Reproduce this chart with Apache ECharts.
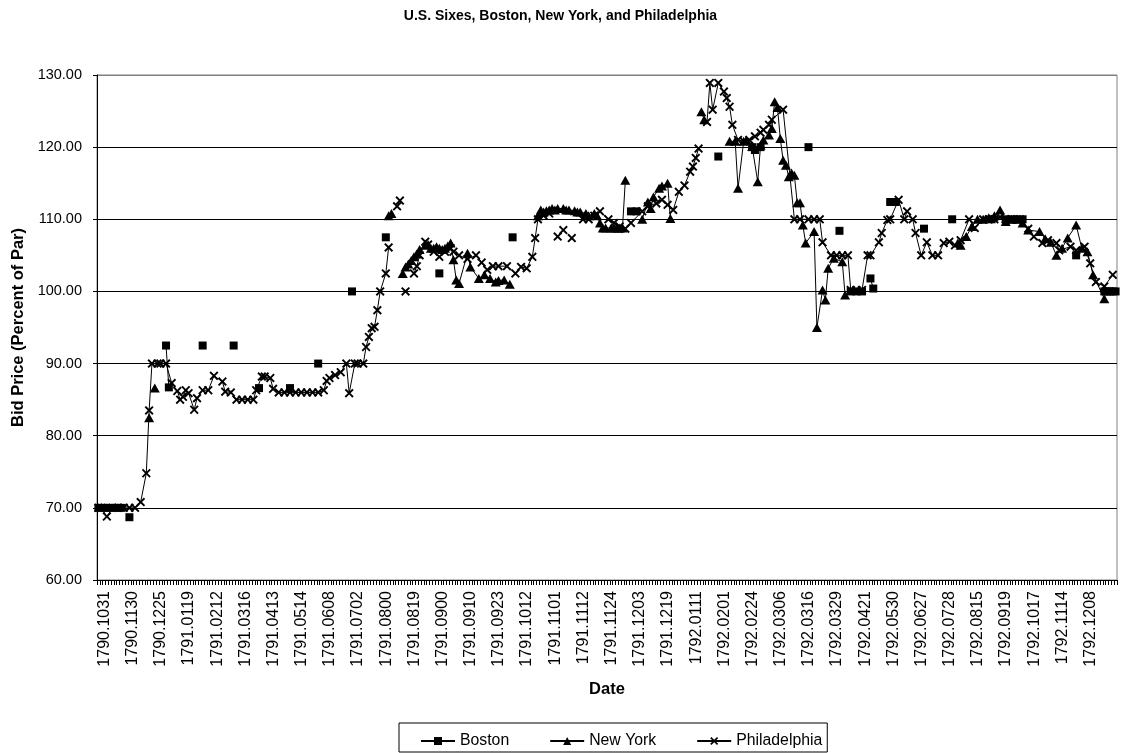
<!DOCTYPE html>
<html>
<head>
<meta charset="utf-8">
<script src="https://cdn.jsdelivr.net/npm/echarts@6/dist/echarts.min.js"></script>
<style>
html,body{margin:0;padding:0;background:#fff;}
#chart{width:1121px;height:753px;}
</style>
</head>
<body>
<div id="chart"></div>
<script>
// ---- Data ----
const chartTitle = 'U.S. Sixes, Boston, New York, and Philadelphia';
const xAxisTitle = 'Date';
const yAxisTitle = 'Bid Price (Percent of Par)';
const seriesNames = ['Boston', 'New York', 'Philadelphia'];

// Tick labels shown on the date axis (one every 10 observations)
const dateLabels = ['1790.1031','1790.1130','1790.1225','1791.0119','1791.0212','1791.0316',
  '1791.0413','1791.0514','1791.0608','1791.0702','1791.0800','1791.0819','1791.0900','1791.0910',
  '1791.0923','1791.1012','1791.1101','1791.1112','1791.1124','1791.1203','1791.1219','1792.0111',
  '1792.0201','1792.0224','1792.0306','1792.0316','1792.0329','1792.0421','1792.0530','1792.0627',
  '1792.0728','1792.0815','1792.0919','1792.1017','1792.1114','1792.1208'];
const observationCount = 362;
const labelEvery = 10;

const yMin = 60, yMax = 130, yStep = 10;

// Series as runs of [observation index, bid price]; separate runs are not joined by a line
const bostonRuns = [
  [[0,70],[2,70],[4,70],[6,70],[8,70]],
  [[11,68.7]],
  [[24,92.5],[25,86.7]],
  [[37,92.5]],
  [[48,92.5]],
  [[57,86.6]],
  [[68,86.6]],
  [[78,90]],
  [[90,100]],
  [[102,107.5]],
  [[121,102.5]],
  [[147,107.5]],
  [[189,111.1],[191,111.1]],
  [[220,118.7]],
  [[232,120],[233,119.6],[235,120]],
  [[252,120]],
  [[263,108.4]],
  [[267,100],[269,100],[271,100]],
  [[274,101.8],[275,100.4]],
  [[281,112.4],[283,112.4]],
  [[293,108.7]],
  [[303,110]],
  [[317,110]],
  [[322,110],[324,110],[326,110],[328,110]],
  [[347,105]],
  [[357,100],[358,100],[359,100],[360,100],[361,100]]
];

const newYorkRuns = [
  [[18,82.5]],
  [[20,86.6]],
  [[103,110.5],[104,110.8]],
  [[108,102.5],[109,103.4],[110,103.8],[111,104.3],[112,104.8],[113,105.2],[114,105.8],[116,106.4],
   [117,106.5],[118,106],[119,106],[120,106.2],[121,106],[122,105.8],[123,106],[124,106.3],[125,106.7],
   [126,104.4],[127,101.6],[128,101.1],[131,105.3],[132,103.4],[135,101.8],[137,102.3],[139,101.8],
   [141,101.3],[142,101.5],[144,101.6],[146,101]],
  [[156,110.5],[157,111.3],[158,111],[159,111.2],[160,111.3],[161,111.5],[162,111.3],[163,111.5],
   [165,111.5],[166,111.3],[167,111.3],[169,111.2],[170,111],[171,111],[173,110.8],[174,110.5],
   [176,110.8],[177,110.5],[178,109.5],[179,108.8],[180,108.8],[182,108.8],[183,108.8],[184,108.8],
   [185,108.8],[186,108.8],[187,115.4]],
  [[193,110],[195,112.4],[196,111.5],[197,113.1],[199,114.3],[200,114.6],[202,115],[203,110.1]],
  [[214,124.9],[215,123.8]],
  [[224,120.8],[226,120.8],[227,114.3],[229,120.8],[230,121],[232,120.1],[234,115.2],[235,120.3],
   [236,121],[238,121.7],[239,122.6],[240,126.3],[241,125.5],[242,121.2],[243,118.2],[244,117.5],
   [245,115.9],[246,116.4],[247,116.1],[248,112.3],[249,112.3],[250,109.2],[251,106.7],[254,108.3],
   [255,95],[257,100.2],[258,98.8],[259,103.2],[261,104.6],[264,104.1],[265,99.5]],
  [[305,106.7],[306,106.4],[308,107.6],[310,109],[312,110],[314,110],[316,110.2],[318,110.5],
   [320,111.3],[322,109.7],[324,110],[326,110],[328,109.5],[330,108.5],[334,108.3],[336,107.3],
   [338,106.8],[340,105],[342,106],[344,107.4],[347,109.2],[349,106],[351,105.5],[353,102.3],[357,99]]
];

const philadelphiaRuns = [
  [[0,70],[1,70],[3,68.8],[5,70],[7,70],[9,70],[11,70],[13,70],[15,70.8],[17,74.8],[18,83.5],
   [19,90],[21,90],[22,90],[24,90],[26,87.3],[28,86.2],[29,85],[30,85.4],[31,86.3],[32,85.9],
   [34,83.6],[35,85.2],[37,86.3],[39,86.3],[41,88.3],[44,87.5],[45,86.1],[47,86],[49,85],[51,85],
   [53,85],[55,85],[56,86.3],[58,88.2],[59,88.2],[61,88],[62,86.5],[64,86],[66,86],[68,86],[70,86],
   [72,86],[74,86],[76,86],[78,86],[80,86.3],[81,87.6],[82,88],[84,88.4],[86,88.8],[88,90],[89,85.9],
   [91,90],[92,90],[94,90],[95,92.3],[96,93.7],[97,94.9],[98,95.1],[99,97.4],[100,100],[102,102.5],
   [103,106.1]],
  [[106,111.8],[107,112.6]],
  [[109,100]],
  [[112,102.5],[113,103.5],[114,105],[116,106.9],[117,106.5],[119,105.5],[121,104.8],[123,105.5],
   [125,106],[126,105.5],[128,105],[131,104.5],[134,105],[136,104],[138,103],[140,103.5],[142,103.5],
   [145,103.5],[148,102.5],[150,103.4],[152,103.2],[154,104.8],[155,107.4],[156,110],[158,110.5],
   [160,110.8]],
  [[163,107.6]],
  [[165,108.5]],
  [[168,107.4]],
  [[172,110],[174,110],[176,110.5],[178,111.1],[181,110],[183,109.5],[185,109],[187,108.7],
   [189,109.5],[193,111.1],[195,111.8],[198,112.2],[200,112.7],[202,112],[204,111.3],[206,113.8],
   [208,114.7],[210,116.6],[211,117.3],[212,118.5],[213,119.8]],
  [[216,123.5],[217,128.9],[218,125.2],[220,128.9],[222,127.7],[223,126.8],[224,125.6],[225,123.1],
   [227,121],[229,120.8],[231,121],[233,121.5],[235,122],[236,122.4],[238,123.1],[239,123.8],
   [243,125.2],[247,110],[249,110],[252,110],[254,110],[256,110],[257,106.8],[260,105],[262,105],
   [264,105],[266,105],[267,100.2],[269,100.2],[271,100.2],[273,105],[274,105],[277,106.8],
   [278,108.1],[280,109.9],[281,110],[284,112.7],[286,110],[287,111.1],[289,110],[290,108.1],
   [292,105],[294,106.8],[296,105],[298,105],[300,106.7],[302,106.9],[304,106.4],[306,107.1],
   [309,110],[311,108.8],[314,110],[316,110],[318,110],[320,110.3],[322,110],[324,110],[327,110],
   [330,108.7],[332,107.6],[335,106.7],[337,107.1],[340,106.7],[341,105.7],[345,106.2],[347,105.7],
   [350,106.2],[352,103.9],[354,101.3],[357,100.7],[360,102.3]]
];

// ---- Build library inputs ----
const categories = Array.from({length: observationCount}, (_, i) =>
  (i % labelEvery === 0 && dateLabels[i / labelEvery]) ? dateLabels[i / labelEvery] : '#' + i);

function joinRuns(runs) {
  const out = [];
  runs.forEach((run, k) => {
    if (k > 0) out.push([run[0][0], null]);
    run.forEach(p => out.push(p));
  });
  return out;
}

const FONT = '"Liberation Sans", Arial, Helvetica, sans-serif';
const xMarker = 'path://M0,1.5L1.5,0L5,3.5L8.5,0L10,1.5L6.5,5L10,8.5L8.5,10L5,6.5L1.5,10L0,8.5L3.5,5Z';

const gridColors = [];
for (let v = yMin; v <= yMax; v += yStep) gridColors.push(v === yMax ? '#808080' : '#000000');

const common = {
  type: 'line',
  showSymbol: true,
  showAllSymbol: true,
  connectNulls: false,
  animation: false,
  emphasis: {disabled: true},
  lineStyle: {color: '#000', width: 1},
  itemStyle: {color: '#000'}
};

const chart = echarts.init(document.getElementById('chart'), null, {renderer: 'canvas'});
chart.setOption({
  backgroundColor: '#ffffff',
  animation: false,
  textStyle: {fontFamily: FONT, color: '#000'},
  title: {
    text: chartTitle, left: 'center', top: 4,
    textStyle: {fontFamily: FONT, fontSize: 14, fontWeight: 'bold', color: '#000'}
  },
  grid: {left: 97, right: 4, top: 75, bottom: 173, show: true, borderColor: '#808080', borderWidth: 1, containLabel: false},
  legend: {
    left: 399, top: 723,
    data: seriesNames,
    itemWidth: 34, itemHeight: 10, itemGap: 40,
    padding: [10, 5, 3, 21],
    borderColor: '#000', borderWidth: 1,
    textStyle: {fontFamily: FONT, fontSize: 15.8, color: '#000'}
  },
  xAxis: {
    type: 'category', data: categories, boundaryGap: true,
    name: xAxisTitle, nameLocation: 'middle', nameGap: 101,
    nameTextStyle: {fontFamily: FONT, fontSize: 16.5, fontWeight: 'bold', color: '#000'},
    axisLine: {show: true, lineStyle: {color: '#000', width: 1}},
    axisTick: {show: true, interval: 0, length: 5, alignWithLabel: false, lineStyle: {color: '#000', width: 1}},
    axisLabel: {
      interval: labelEvery - 1, rotate: 90, margin: 11, fontFamily: FONT, fontSize: 16, color: '#000',
      verticalAlign: 'top', lineHeight: 12,
      formatter: v => (v.charAt(0) === '#' ? '' : v)
    },
    splitLine: {show: false}
  },
  yAxis: {
    type: 'value', min: yMin, max: yMax, interval: yStep,
    name: yAxisTitle, nameLocation: 'middle', nameGap: 68,
    nameTextStyle: {fontFamily: FONT, fontSize: 16.5, fontWeight: 'bold', color: '#000'},
    axisLine: {show: true, lineStyle: {color: '#000', width: 1}},
    axisTick: {show: true, length: 4, lineStyle: {color: '#000', width: 1}},
    axisLabel: {margin: 15, fontFamily: FONT, fontSize: 14.5, color: '#000', formatter: v => v.toFixed(2)},
    splitLine: {show: true, lineStyle: {color: gridColors, width: 1}}
  },
  series: [
    Object.assign({}, common, {name: seriesNames[0], data: joinRuns(bostonRuns), symbol: 'rect', symbolSize: 8}),
    Object.assign({}, common, {name: seriesNames[1], data: joinRuns(newYorkRuns), symbol: 'triangle', symbolSize: [10, 9]}),
    Object.assign({}, common, {name: seriesNames[2], data: joinRuns(philadelphiaRuns), symbol: xMarker, symbolSize: 9})
  ]
});
</script>
</body>
</html>
